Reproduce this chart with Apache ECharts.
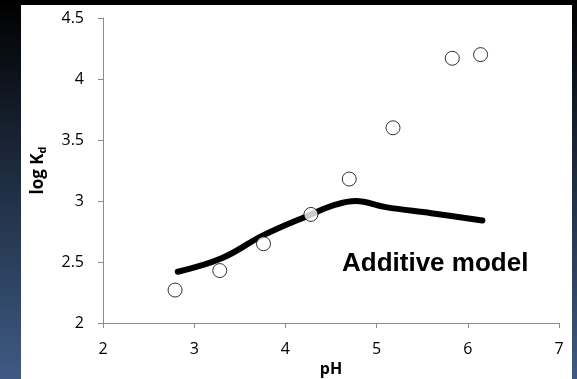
<!DOCTYPE html>
<html>
<head>
<meta charset="utf-8">
<script src="https://cdn.jsdelivr.net/npm/echarts@6/dist/echarts.min.js"></script>
<style>
  html, body { margin: 0; padding: 0; }
  body {
    width: 577px; height: 379px; overflow: hidden; position: relative;
    background: linear-gradient(to bottom, #000000 0%, #1a2637 40%, #3e5a84 100%);
  }
  #chart {
    position: absolute; left: 21px; top: 5px; width: 551px; height: 374px;
    background: #ffffff;
  }
</style>
</head>
<body>
<div id="chart"></div>
<script>
// measured points (pH, log Kd)
const measuredPH = [2.79, 3.28, 3.76, 4.28, 4.70, 5.18, 5.83, 6.14]
const measuredLogKd = [2.27, 2.43, 2.65, 2.89, 3.18, 3.60, 4.17, 4.20]

// additive model curve
const modelPH = [2.82, 3.3, 3.76, 4.28, 4.55, 4.77, 5.1, 5.6, 6.16]
const modelLogKd = [2.42, 2.53, 2.72, 2.89, 2.97, 3.0, 2.95, 2.9, 2.84]

const xTicks = [2, 3, 4, 5, 6, 7]
const yTicks = [2, 2.5, 3, 3.5, 4, 4.5]

const chart = echarts.init(document.getElementById('chart'))
const axisColor = '#8c8c8c'
const labelFont = '"Open Sans", "Liberation Sans", sans-serif'

chart.setOption({
  animation: false,
  grid: { left: 82, right: 13, top: 13, bottom: 56, outerBoundsMode: 'none' },
  xAxis: {
    type: 'value',
    min: xTicks[0],
    max: xTicks[xTicks.length - 1],
    interval: 1,
    name: 'pH',
    nameLocation: 'middle',
    nameGap: 38,
    nameTextStyle: { color: '#000', fontSize: 16, fontWeight: 'bold', fontFamily: labelFont },
    axisLine: { lineStyle: { color: axisColor, width: 1 } },
    axisTick: { show: true, length: 5, lineStyle: { color: axisColor } },
    axisLabel: { color: '#000', fontSize: 16, fontFamily: labelFont, margin: 18 },
    splitLine: { show: false }
  },
  yAxis: {
    type: 'value',
    min: yTicks[0],
    max: yTicks[yTicks.length - 1],
    interval: 0.5,
    name: '{a|log K}{b|d}',
    nameLocation: 'middle',
    nameRotate: 90,
    nameGap: 55,
    nameTextStyle: {
      rich: {
        a: { color: '#000', fontSize: 17, fontWeight: 'bold', fontFamily: labelFont },
        b: { color: '#000', fontSize: 11, fontWeight: 'bold', fontFamily: labelFont, padding: [9, 0, 0, 0] }
      }
    },
    axisLine: { show: true, lineStyle: { color: axisColor, width: 1 } },
    axisTick: { show: true, length: 5, lineStyle: { color: axisColor } },
    axisLabel: { color: '#000', fontSize: 16, fontFamily: labelFont, margin: 19 },
    splitLine: { show: false }
  },
  graphic: [{
    type: 'text',
    left: 321,
    top: 246,
    style: {
      text: 'Additive model',
      fill: '#000',
      font: 'bold 26px "Liberation Sans", Arial, sans-serif'
    }
  }],
  series: [
    {
      type: 'line',
      data: modelPH.map((x, i) => [x, modelLogKd[i]]),
      smooth: 0.4,
      showSymbol: false,
      lineStyle: { color: '#000', width: 6, cap: 'round' },
      z: 2
    },
    {
      type: 'scatter',
      data: measuredPH.map((x, i) => [x, measuredLogKd[i]]),
      symbol: 'circle',
      symbolSize: 14,
      itemStyle: { color: '#fff', borderColor: '#000', borderWidth: 1 },
      z: 3
    }
  ]
})
</script>
</body>
</html>
